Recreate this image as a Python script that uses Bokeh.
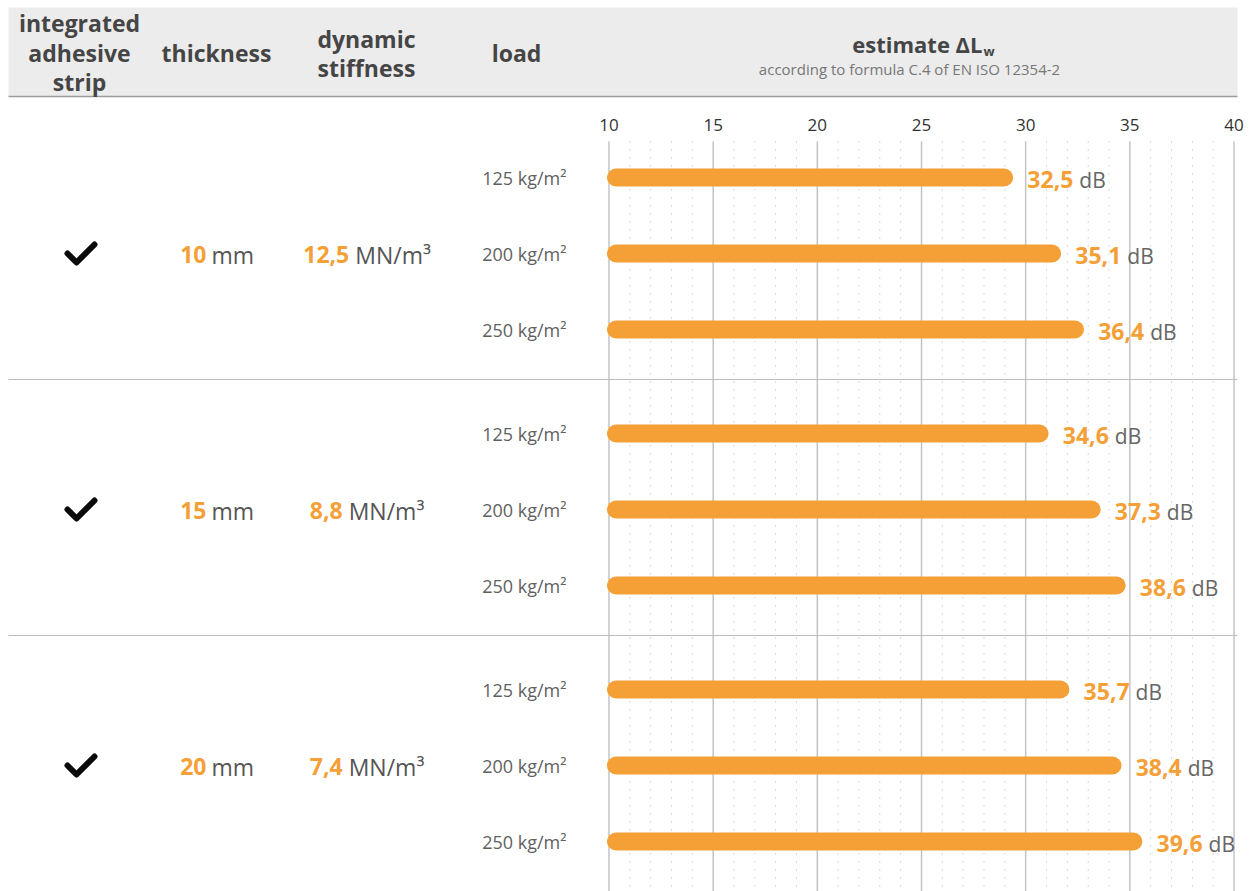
from bokeh.plotting import figure
from bokeh.models import Range1d, ColumnDataSource
from bokeh.core.properties import value
from bokeh.embed import file_html
from bokeh.resources import INLINE

# ---------------- data ----------------
adhesive_strip = [True, True, True]
thickness_mm = ["10", "15", "20"]
dynamic_stiffness = ["12,5", "8,8", "7,4"]
load_values = ["125", "200", "250"]
delta_lw_125 = [32.5, 34.6, 35.7]
delta_lw_200 = [35.1, 37.3, 38.4]
delta_lw_250 = [36.4, 38.6, 39.6]
# bar extents as drawn in the reference
bar_end_125 = [29.4, 31.1, 32.1]
bar_end_200 = [31.7, 33.6, 34.6]
bar_end_250 = [32.8, 34.8, 35.6]
bar_start = 9.9
x_ticks = [10, 15, 20, 25, 30, 35, 40]
tick_labels = ["10", "15", "20", "25", "30", "35", "40"]

# ---------------- layout ----------------
W, H = 1251, 891
X10_PX, X40_PX = 608.5, 1233.5
k = (X40_PX - X10_PX) / (x_ticks[-1] - x_ticks[0])
x_start = x_ticks[0] - X10_PX / k
x_end = x_start + W / k


def X(px):
    return x_start + px / k


ROW0, GROUP_H, LOAD_STEP = 177, 256, 76
ORANGE = "#F4A037"
FONT = value("Open Sans")

CW_REG = {",": 0.25, " ": 0.26, "M": 0.893, "N": 0.752, "/": 0.371, "m": 0.871,
          "\u00b3": 0.36, "d": 0.613, "B": 0.637}
CW_BOLD = {",": 0.293}


def text_w(s, size, bold=False):
    tbl = CW_BOLD if bold else CW_REG
    return sum(tbl.get(c, 0.572) for c in s) * size


p = figure(width=W, height=H, x_range=Range1d(x_start, x_end), y_range=Range1d(H, 0),
           output_backend="svg", toolbar_location=None, min_border=0,
           x_axis_location=None, y_axis_location=None, outline_line_color=None,
           background_fill_color="white", border_fill_color="white")
p.xgrid.visible = False
p.ygrid.visible = False

# header band
p.quad(left=[X(8)], right=[X(1237)], top=[7], bottom=[96], fill_color="#ececec", line_color=None)
p.segment(x0=[X(8)], y0=[96], x1=[X(1237)], y1=[96], line_color="#9c9c9c", line_width=1.5)

# grid
minor = [v for v in range(x_ticks[0], x_ticks[-1] + 1) if v not in x_ticks]
p.segment(x0=minor, y0=[141] * len(minor), x1=minor, y1=[H] * len(minor),
          line_color="#b3b3b3", line_width=1, line_dash="1 7")
p.segment(x0=x_ticks, y0=[141] * len(x_ticks), x1=x_ticks, y1=[H] * len(x_ticks),
          line_color="#c4c4c4", line_width=1.5)

# group separators
sep_y = [ROW0 - 54 + GROUP_H * g for g in range(1, len(thickness_mm))]
p.segment(x0=[X(8)] * len(sep_y), y0=sep_y, x1=[X(1237)] * len(sep_y), y1=sep_y,
          line_color="#bdbdbd", line_width=1.2)

# tick labels
p.text(x=x_ticks, y=[124] * len(x_ticks), text=tick_labels, text_font=FONT,
       text_font_size="17px", text_color="#333333", text_align="center", text_baseline="middle")

# header texts
hdr = dict(text_font=FONT, text_font_size="23px", text_font_style="bold", text_color="#454545",
           text_align="center", text_baseline="middle")
p.text(x=[X(79)] * 3, y=[22, 52, 81], text=["integrated", "adhesive", "strip"], **hdr)
p.text(x=[X(216)], y=[52], text=["thickness"], **hdr)
p.text(x=[X(366)] * 2, y=[38, 67], text=["dynamic", "stiffness"], **hdr)
p.text(x=[X(516)], y=[52], text=["load"], **hdr)
p.text(x=[X(982)], y=[43], text=["estimate \u0394L"], text_font=FONT, text_font_size="22px",
       text_font_style="bold", text_color="#454545", text_align="right", text_baseline="middle")
p.text(x=[X(983)], y=[50], text=["w"], text_font=FONT, text_font_size="13px",
       text_font_style="bold", text_color="#454545", text_align="left", text_baseline="middle")
p.text(x=[X(909)], y=[68], text=["according to formula C.4 of EN ISO 12354-2"], text_font=FONT,
       text_font_size="15px", text_color="#777777", text_align="center", text_baseline="middle")

# left columns
n = len(thickness_mm)
row_y = [ROW0 + LOAD_STEP + GROUP_H * g + 1 for g in range(n)]

# check mark icon (shape relative to the row centre)
check_dx = [-13, -4, 14]
check_dy = [-1, 8, -10]
cx = 80
chk_xs = [[X(cx + d) for d in check_dx] for g, a in enumerate(adhesive_strip) if a]
chk_ys = [[row_y[g] + d for d in check_dy] for g, a in enumerate(adhesive_strip) if a]
p.multi_line(xs=chk_xs, ys=chk_ys, line_color="#0a0a0a", line_width=6,
             line_cap="round", line_join="round")

p.text(x=[X(206)] * n, y=row_y, text=thickness_mm, text_font=FONT, text_font_size="23px",
       text_font_style="bold", text_color=ORANGE, text_align="right", text_baseline="middle")
p.text(x=[X(211)] * n, y=row_y, text=["mm"] * n, text_font=FONT, text_font_size="23px",
       text_color="#555555", text_align="left", text_baseline="middle")

unit = "MN/m\u00b3"
gap = 6
sv_x, su_x = [], []
for s in dynamic_stiffness:
    wv = text_w(s, 23, True)
    wu = text_w(unit, 23)
    left = 366 - (wv + gap + wu) / 2
    sv_x.append(X(left + wv))
    su_x.append(X(left + wv + gap))
p.text(x=sv_x, y=row_y, text=dynamic_stiffness, text_font=FONT, text_font_size="23px",
       text_font_style="bold", text_color=ORANGE, text_align="right", text_baseline="middle")
p.text(x=su_x, y=row_y, text=[unit] * n, text_font=FONT, text_font_size="23px",
       text_color="#555555", text_align="left", text_baseline="middle")

# bars
ys, ends, vals, load_lbl = [], [], [], []
series = list(zip(bar_end_125, bar_end_200, bar_end_250))
values = list(zip(delta_lw_125, delta_lw_200, delta_lw_250))
for g in range(n):
    for i, ld in enumerate(load_values):
        ys.append(ROW0 + GROUP_H * g + LOAD_STEP * i)
        ends.append(series[g][i])
        vals.append(values[g][i])
        load_lbl.append(f"{ld} kg/m\u00b2")

src = ColumnDataSource(dict(y=ys, right=ends, left=[bar_start] * len(ys),
                            vtxt=[f"{v:.1f}".replace(".", ",") for v in vals],
                            load=load_lbl))
p.hbar(y="y", left="left", right="right", height=18, source=src, fill_color=ORANGE,
       line_color=None, border_radius=9)

p.text(x=[X(566)] * len(ys), y=ys, text=load_lbl, text_font=FONT, text_font_size="18px",
       text_color="#5f5f5f", text_align="right", text_baseline="middle")

wv = text_w("32,5", 23, True)
p.text(x="right", y="y", text="vtxt", source=src, x_offset=14 + wv, y_offset=2,
       text_font=FONT, text_font_size="23px", text_font_style="bold", text_color=ORANGE,
       text_align="right", text_baseline="middle")
p.text(x="right", y="y", text=value("dB"), source=src, x_offset=14 + wv + 6, y_offset=2,
       text_font=FONT, text_font_size="21px", text_color="#666666",
       text_align="left", text_baseline="middle")

open("out.html", "w").write(file_html(p, INLINE))
